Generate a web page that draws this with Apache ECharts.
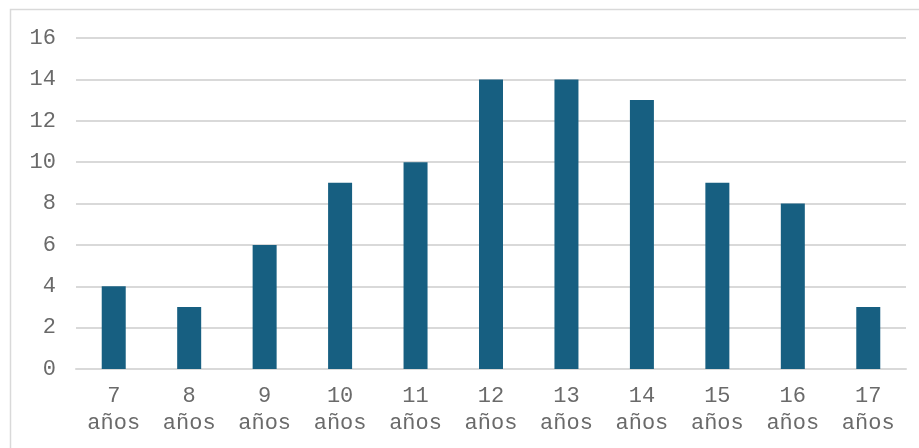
<!DOCTYPE html>
<html>
<head>
<meta charset="utf-8">
<script src="https://cdn.jsdelivr.net/npm/echarts@6/dist/echarts.min.js"></script>
<style>
html,body{margin:0;padding:0;background:#fff;}
#chart{width:919px;height:448px;}
</style>
</head>
<body>
<div id="chart"></div>
<script>
// Ages and the count for each age
const categories = ['7\naños','8\naños','9\naños','10\naños','11\naños','12\naños','13\naños','14\naños','15\naños','16\naños','17\naños'];
const counts = [4, 3, 6, 9, 10, 14, 14, 13, 9, 8, 3];
const yMin = 0, yMax = 16, yStep = 2;

const font = '"Liberation Mono", "Courier New", monospace';
const chart = echarts.init(document.getElementById('chart'));
chart.setOption({
  animation: false,
  backgroundColor: '#ffffff',
  graphic: [{
    type: 'rect',
    shape: { x: 10.5, y: 9.5, width: 920, height: 460 },
    style: { fill: 'none', stroke: '#d9d9d9', lineWidth: 1.5 },
    silent: true
  }],
  grid: { left: 76, right: 13, top: 38, bottom: 79 },
  xAxis: {
    type: 'category',
    data: categories,
    axisLine: { show: true, lineStyle: { color: '#d9d9d9', width: 2 } },
    axisTick: { show: false },
    axisLabel: {
      color: '#6a6a6a', fontFamily: font, fontSize: 22, lineHeight: 27, margin: 14
    }
  },
  yAxis: {
    type: 'value',
    min: yMin, max: yMax, interval: yStep,
    axisLine: { show: false },
    axisTick: { show: false },
    splitLine: { lineStyle: { color: '#d9d9d9', width: 2 } },
    axisLabel: { color: '#6a6a6a', fontFamily: font, fontSize: 22, margin: 20 }
  },
  series: [{
    type: 'bar',
    data: counts,
    barWidth: 24,
    itemStyle: { color: '#175f81' }
  }]
});
</script>
</body>
</html>
